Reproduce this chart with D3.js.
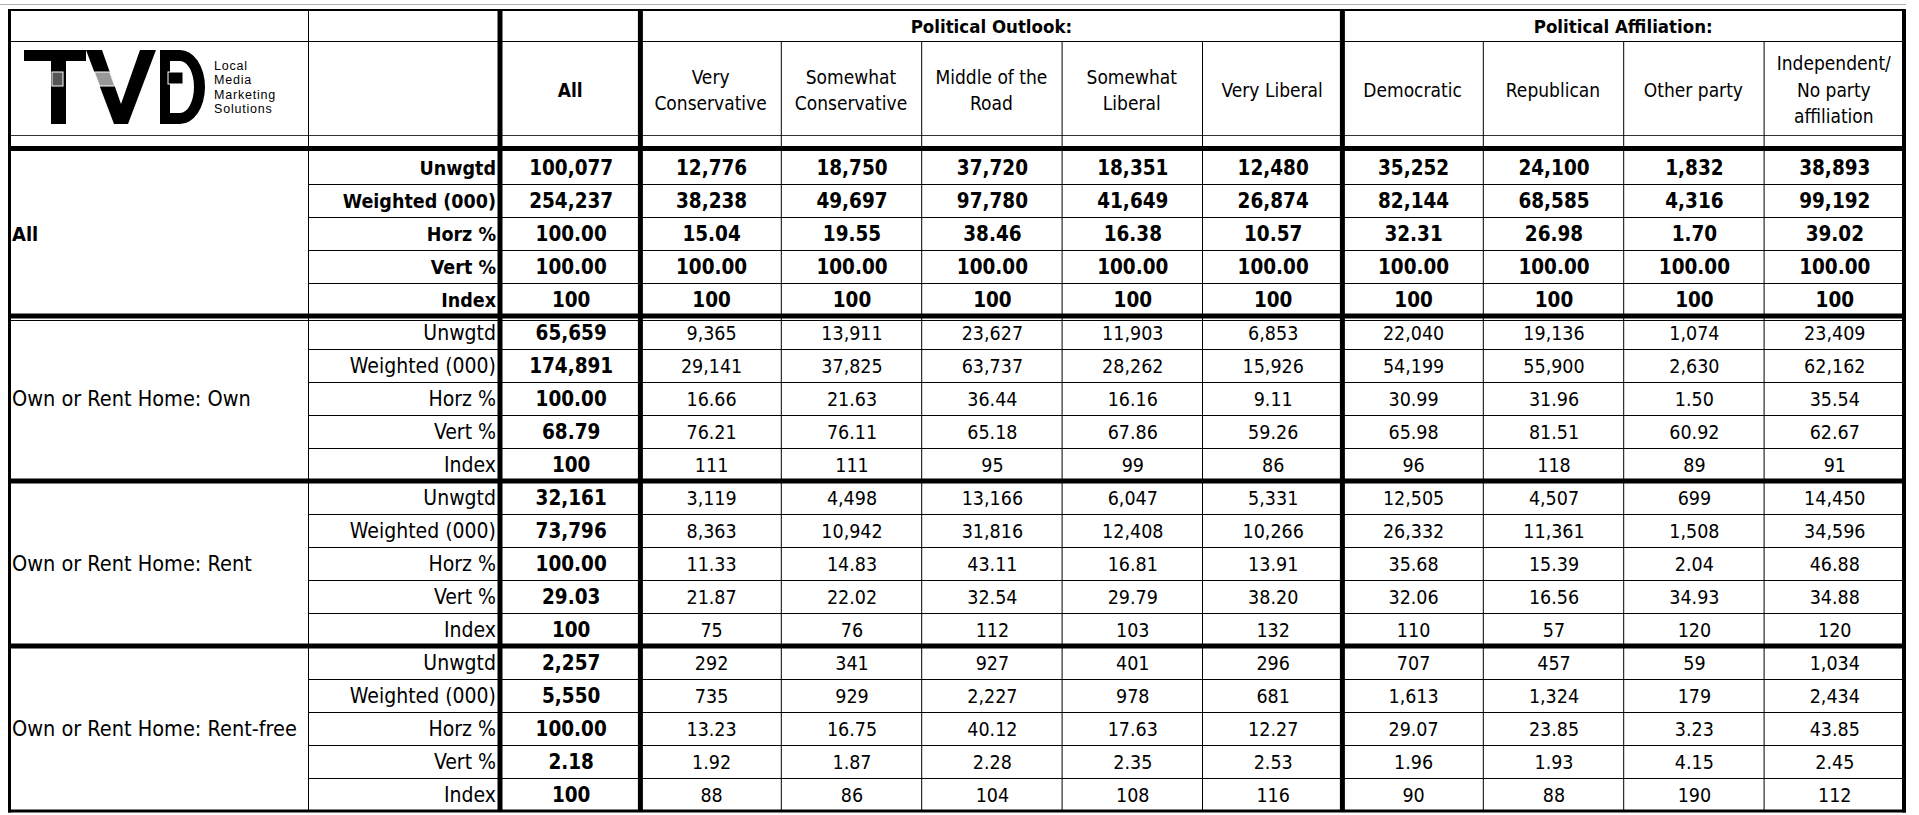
<!DOCTYPE html>
<html><head><meta charset="utf-8">
<script src="https://cdn.jsdelivr.net/npm/d3@7"></script>
<style>
body{margin:0;background:#fff}
svg{display:block}
text{font-family:'DejaVu Sans Condensed','DejaVu Sans',sans-serif;font-stretch:condensed;fill:#000}
</style>
</head><body>
<svg id="c" width="1919" height="815"></svg>
<script>
// ---------- data ----------
const groupHeaders = [
  {label: "Political Outlook:", from: 1, to: 5},
  {label: "Political Affiliation:", from: 6, to: 9}
];
const columns = ["All", "Very\nConservative", "Somewhat\nConservative", "Middle of the\nRoad",
  "Somewhat\nLiberal", "Very Liberal", "Democratic", "Republican", "Other party",
  "Independent/\nNo party\naffiliation"];
const rowTypes = ["Unwgtd", "Weighted (000)", "Horz %", "Vert %", "Index"];
const rowFormats = [",", ",", ".2f", ".2f", "d"];
const blocks = ["All", "Own or Rent Home: Own", "Own or Rent Home: Rent", "Own or Rent Home: Rent-free"];

const allValues = [
  [100077, 12776, 18750, 37720, 18351, 12480, 35252, 24100, 1832, 38893],
  [254237, 38238, 49697, 97780, 41649, 26874, 82144, 68585, 4316, 99192],
  [100.00, 15.04, 19.55, 38.46, 16.38, 10.57, 32.31, 26.98, 1.70, 39.02],
  [100.00, 100.00, 100.00, 100.00, 100.00, 100.00, 100.00, 100.00, 100.00, 100.00],
  [100, 100, 100, 100, 100, 100, 100, 100, 100, 100]
];
const ownValues = [
  [65659, 9365, 13911, 23627, 11903, 6853, 22040, 19136, 1074, 23409],
  [174891, 29141, 37825, 63737, 28262, 15926, 54199, 55900, 2630, 62162],
  [100.00, 16.66, 21.63, 36.44, 16.16, 9.11, 30.99, 31.96, 1.50, 35.54],
  [68.79, 76.21, 76.11, 65.18, 67.86, 59.26, 65.98, 81.51, 60.92, 62.67],
  [100, 111, 111, 95, 99, 86, 96, 118, 89, 91]
];
const rentValues = [
  [32161, 3119, 4498, 13166, 6047, 5331, 12505, 4507, 699, 14450],
  [73796, 8363, 10942, 31816, 12408, 10266, 26332, 11361, 1508, 34596],
  [100.00, 11.33, 14.83, 43.11, 16.81, 13.91, 35.68, 15.39, 2.04, 46.88],
  [29.03, 21.87, 22.02, 32.54, 29.79, 38.20, 32.06, 16.56, 34.93, 34.88],
  [100, 75, 76, 112, 103, 132, 110, 57, 120, 120]
];
const rentFreeValues = [
  [2257, 292, 341, 927, 401, 296, 707, 457, 59, 1034],
  [5550, 735, 929, 2227, 978, 681, 1613, 1324, 179, 2434],
  [100.00, 13.23, 16.75, 40.12, 17.63, 12.27, 29.07, 23.85, 3.23, 43.85],
  [2.18, 1.92, 1.87, 2.28, 2.35, 2.53, 1.96, 1.93, 4.15, 2.45],
  [100, 88, 86, 104, 108, 116, 90, 88, 190, 112]
];
const blockValues = [allValues, ownValues, rentValues, rentFreeValues];
const logoLines = ["Local", "Media", "Marketing", "Solutions"];

// ---------- layout ----------
const L = 8, LABEL_R = 308, TYPE_R = 500, R = 1904;
const TOP = 10, H1 = 41, H2 = 135, H3 = 146, DATA_TOP = 151, DATA_BOT = 811;

const svg = d3.select("#c");
const nRows = blocks.length * rowTypes.length;
const x = d3.scaleBand().domain(d3.range(columns.length)).range([TYPE_R, R]);
const y = d3.scaleBand().domain(d3.range(nRows)).range([DATA_TOP, DATA_BOT]);
const bw = x.bandwidth(), bh = y.bandwidth();

const lines = svg.append("g");
function hline(y0, x0, x1, w, c) {
  lines.append("line").attr("x1", x0).attr("x2", x1).attr("y1", y0).attr("y2", y0)
    .attr("stroke", c || "#000").attr("stroke-width", w);
}
function vline(x0, y0, y1, w, c) {
  lines.append("line").attr("x1", x0).attr("x2", x0).attr("y1", y0).attr("y2", y1)
    .attr("stroke", c || "#000").attr("stroke-width", w);
}

// faint sheet gridline above the table
hline(4.5, 0, R + 2, 1, "#b0b0b0");
// thin row lines
d3.range(1, nRows).filter(r => r % rowTypes.length !== 0).forEach(r => hline(y(r) + 0.5, LABEL_R, R, 1));
// header lines
hline(H1 + 0.5, L, R, 1);
hline(H2 + 0.5, L, R, 1, "#333");
// sub-column thin lines
columns.forEach((c, i) => {
  if (i === 0 || i === 1 || i === 6) return;
  vline(x(i) + 0.5, H1, DATA_BOT, 1);
});
vline(LABEL_R + 0.5, TOP, DATA_BOT, 1);
// block separators
d3.range(1, blocks.length).forEach(b => {
  const yy = y(b * rowTypes.length);
  hline(yy, L, R, 5);
  if (b === 1) hline(yy + 4.5, L, R, 1.2);
});
hline((H3 + DATA_TOP) / 2, L, R, 5);
// thick verticals
[0, 1, 6].forEach(i => vline(x(i), TOP, DATA_BOT, 5));
// outer border
hline(TOP, L, R + 2, 2);
hline(DATA_BOT, L, R + 2, 3);
vline(L + 1.5, TOP - 1, DATA_BOT + 1.5, 3);
vline(R, TOP - 1, DATA_BOT + 1.5, 4);

// ---------- header text ----------
const txt = svg.append("g");
groupHeaders.forEach(g => {
  txt.append("text").attr("x", (x(g.from) + x(g.to) + bw) / 2).attr("y", (TOP + H1) / 2 + 1)
    .attr("dy", "0.36em").attr("text-anchor", "middle")
    .style("font-size", "18.5px").style("font-weight", "bold").text(g.label);
});
const LH = 26.5;
columns.forEach((c, i) => {
  const parts = c.split("\n");
  const cy = (H1 + H2) / 2 + 2;
  const t = txt.append("text").attr("text-anchor", "middle")
    .style("font-size", "19px").style("font-weight", i === 0 ? "bold" : "normal");
  parts.forEach((p, k) => {
    t.append("tspan").attr("x", x(i) + bw / 2)
      .attr("y", cy + (k - (parts.length - 1) / 2) * LH).attr("dy", "0.36em").text(p);
  });
});

// ---------- body text ----------
blocks.forEach((b, bi) => {
  const bold = bi === 0;
  const r0 = bi * rowTypes.length;
  txt.append("text").attr("x", 12).attr("y", y(r0 + 2) + bh / 2).attr("dy", "0.36em")
    .style("font-size", bold ? "20px" : "21.5px").style("font-weight", bold ? "bold" : "normal").text(b);
  rowTypes.forEach((rt, ri) => {
    const yy = y(r0 + ri) + bh / 2;
    txt.append("text").attr("x", TYPE_R - 4).attr("y", yy).attr("dy", "0.36em")
      .attr("text-anchor", "end").style("font-size", bold ? "19.5px" : "21px")
      .style("font-weight", bold ? "bold" : "normal").text(rt);
    const f = d3.format(rowFormats[ri]);
    txt.selectAll(null).data(blockValues[bi][ri]).enter().append("text")
      .attr("x", (d, ci) => x(ci) + bw / 2 + 1).attr("y", yy).attr("dy", "0.36em")
      .attr("text-anchor", "middle")
      .style("font-size", (d, ci) => (bold || ci === 0) ? "20.5px" : "19.5px")
      .style("font-weight", (d, ci) => (bold || ci === 0) ? "bold" : "normal")
      .text(d => f(d));
  });
});

// ---------- logo ----------
const logo = svg.append("g");
// T
logo.append("rect").attr("x", 24).attr("y", 50).attr("width", 62).attr("height", 11).attr("fill", "#000");
logo.append("rect").attr("x", 51).attr("y", 61).attr("width", 15).attr("height", 63).attr("fill", "#000");
logo.append("rect").attr("x", 52).attr("y", 72).attr("width", 11).attr("height", 14)
  .attr("fill", "#555").attr("stroke", "#fff").attr("stroke-width", 1);
// V
logo.append("path").attr("d", "M86,50 L102,50 L121,104 L140,50 L156,50 L128,124 L114,124 Z").attr("fill", "#000");
logo.append("path").attr("d", "M94.3,72 L109.7,72 L114.7,86 L99.6,86 Z")
  .attr("fill", "#999").attr("stroke", "#fff").attr("stroke-width", 1);
// B
logo.append("path").attr("fill-rule", "evenodd").attr("fill", "#000")
  .attr("d", "M160,50 H180 A 25 37 0 0 1 180,124 H160 Z M170,61 H180 A 14 26 0 0 1 180,113 H170 Z");
logo.append("rect").attr("x", 168).attr("y", 72).attr("width", 15).attr("height", 12)
  .attr("fill", "#000").attr("stroke", "#fff").attr("stroke-width", 1);
// words (one text block, one line per word)
const words = logo.append("text")
  .style("font-family", "'Liberation Sans', Arial, sans-serif").style("font-stretch", "normal")
  .style("font-size", "12.5px").style("letter-spacing", "0.8px");
logoLines.forEach((w, k) => {
  words.append("tspan").attr("x", 214).attr("y", 70 + k * 14.3).text(w);
});
</script>
</body></html>
